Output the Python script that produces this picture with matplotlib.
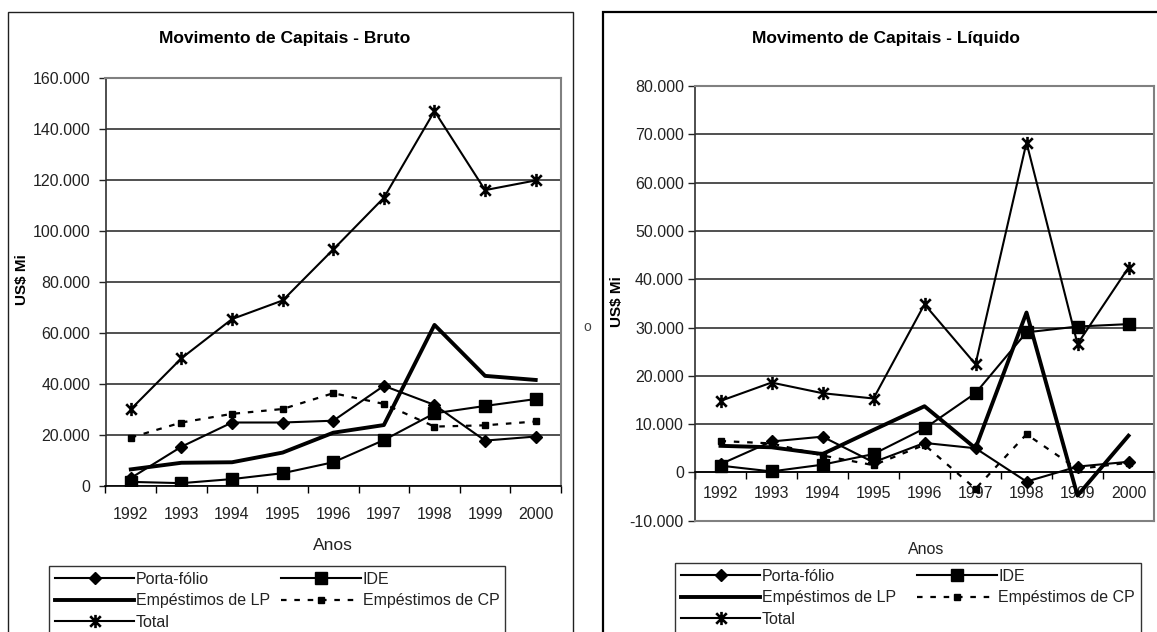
import matplotlib
matplotlib.use("Agg")
import matplotlib.pyplot as plt
from matplotlib.path import Path
from matplotlib.patches import Rectangle
from matplotlib.ticker import FuncFormatter, FixedLocator

plt.rcParams['font.family'] = ['Liberation Sans', 'DejaVu Sans']

years = ['1992', '1993', '1994', '1995', '1996', '1997', '1998', '1999', '2000']
series_names = ['Porta-fólio', 'IDE', 'Empéstimos de LP', 'Empéstimos de CP', 'Total']

# Bruto (US$ Mi)
bruto_portafolio = [3000, 15300, 24800, 24800, 25500, 39200, 31700, 17700, 19300]
bruto_ide = [1500, 1000, 2600, 4900, 9200, 17900, 28400, 31300, 34000]
bruto_lp = [6400, 9000, 9200, 13000, 20800, 23800, 63100, 43100, 41500]
bruto_cp = [18900, 24800, 28200, 30100, 36300, 32100, 23200, 23700, 25200]
bruto_total = [30000, 50000, 65400, 72700, 92700, 113000, 147000, 116000, 119800]

# Líquido (US$ Mi)
liq_portafolio = [1700, 6400, 7400, 2100, 6100, 5000, -1900, 1200, 2200]
liq_ide = [1400, 200, 1600, 3800, 9100, 16400, 29000, 30200, 30700]
liq_lp = [5500, 5200, 3800, 8800, 13700, 5000, 33100, -4800, 7600]
liq_cp = [6500, 6000, 3500, 1500, 5700, -3400, 7900, 700, 2000]
liq_total = [14800, 18600, 16400, 15300, 34800, 22400, 68300, 26600, 42400]

W, H = 1157, 632
fig = plt.figure(figsize=(W / 100, H / 100), dpi=100)
fig.patch.set_facecolor('white')

star = Path([(-1, -1), (1, 1), (-1, 1), (1, -1), (0, -1.25), (0, 1.25)],
            [Path.MOVETO, Path.LINETO, Path.MOVETO, Path.LINETO, Path.MOVETO, Path.LINETO])

def fx(px):
    return px / W

def fy(py):
    return 1 - py / H

def fmt(v, pos):
    return f"{int(round(v)):,}".replace(",", ".")

def make_chart(rect, data, ylim, ystep, xpad, ypad, zero_axis):
    ax = fig.add_axes(rect)
    x = list(range(len(years)))
    port, ide, lp, cp, tot = data
    h_port, = ax.plot(x, port, color='black', lw=1.5, marker='D', ms=6.5, zorder=5)
    h_ide, = ax.plot(x, ide, color='black', lw=1.5, marker='s', ms=8.5, zorder=5)
    h_lp, = ax.plot(x, lp, color='black', lw=2.8, zorder=4)
    h_cp, = ax.plot(x, cp, color='black', lw=1.6, linestyle=(0, (2.5, 3.5)),
                    marker='s', ms=4, zorder=4)
    h_tot, = ax.plot(x, tot, color='black', lw=1.5, marker=star, ms=9.5, mew=1.9,
                     zorder=5)
    ax.set_xlim(-0.5, len(years) - 0.5)
    ax.set_ylim(*ylim)
    yt = list(range(ylim[0], ylim[1] + 1, ystep))
    ax.set_yticks(yt)
    ax.yaxis.set_major_formatter(FuncFormatter(fmt))
    ax.yaxis.grid(True, color='#202020', lw=1.1)
    ax.set_axisbelow(True)
    ax.set_xticks(x)
    ax.set_xticklabels(years)
    ax.xaxis.set_minor_locator(FixedLocator([i - 0.5 for i in range(len(years) + 1)]))
    ax.tick_params(axis='x', which='major', length=0, pad=xpad, labelsize=11.5,
                   colors='#222222')
    ax.tick_params(axis='x', which='minor', length=5, width=1, direction='out',
                   color='black')
    ax.tick_params(axis='y', length=5, width=1, direction='out', pad=ypad,
                   labelsize=11.5, colors='#222222')
    for s in ['top', 'right']:
        ax.spines[s].set_color('#808080')
        ax.spines[s].set_linewidth(1.5)
    ax.spines['left'].set_color('#303030')
    ax.spines['left'].set_linewidth(1.2)
    ax.spines['bottom'].set_color('black')
    ax.spines['bottom'].set_linewidth(1.2)
    if zero_axis:
        ax.spines['bottom'].set_position(('data', 0))
        ax.plot([0, 1], [0, 0], transform=ax.transAxes, color='#808080', lw=1.5,
                clip_on=False, zorder=3)
    return ax, [h_port, h_lp, h_tot, h_ide, h_cp]

def add_legend(handles, corner, colspace):
    labels = [series_names[0], series_names[2], series_names[4],
              series_names[1], series_names[3]]
    leg = fig.legend(handles, labels, loc='upper left', bbox_to_anchor=corner,
                     bbox_transform=fig.transFigure, ncol=2, numpoints=1,
                     handlelength=5.0, handletextpad=0.1, columnspacing=colspace,
                     labelspacing=0.42, borderpad=0.35, borderaxespad=0,
                     fancybox=False, frameon=True, prop={'size': 11.5})
    leg.get_frame().set_edgecolor('black')
    leg.get_frame().set_linewidth(1.0)
    for t in leg.get_texts():
        t.set_color('#222222')
    return leg

# frames
fig.add_artist(Rectangle((fx(8), fy(640)), fx(573) - fx(8), fy(12) - fy(640),
                         transform=fig.transFigure, fill=False, ec='#202020', lw=1.0))
fig.add_artist(Rectangle((fx(603), fy(640)), fx(1175) - fx(603), fy(12) - fy(640),
                         transform=fig.transFigure, fill=False, ec='black', lw=1.6))

# left chart
axL, hL = make_chart([fx(105.5), fy(485.7), fx(561) - fx(105.5), fy(78) - fy(485.7)],
                     [bruto_portafolio, bruto_ide, bruto_lp, bruto_cp, bruto_total],
                     (0, 160000), 20000, 15, 6, False)
fig.text(fx(285), fy(38), 'Movimento de Capitais - Bruto', ha='center', va='center',
         fontsize=12.5, fontweight='bold')
fig.text(fx(333), fy(545), 'Anos', ha='center', va='center', fontsize=12.5,
         color='#222222')
fig.text(fx(22), fy(280), 'US$ Mi', ha='center', va='center', rotation=90,
         fontsize=11, fontweight='bold')
add_legend(hL, (fx(49), fy(566)), 0.7)

# right chart
axR, hR = make_chart([fx(695), fy(520.7), fx(1154) - fx(695), fy(86) - fy(520.7)],
                     [liq_portafolio, liq_ide, liq_lp, liq_cp, liq_total],
                     (-10000, 80000), 10000, 10, 3, True)
fig.text(fx(886), fy(38), 'Movimento de Capitais - Líquido', ha='center', va='center',
         fontsize=12.5, fontweight='bold')
fig.text(fx(926), fy(550), 'Anos', ha='center', va='center', fontsize=11.5,
         color='#222222')
fig.text(fx(617), fy(302), 'US$ Mi', ha='center', va='center', rotation=90,
         fontsize=11, fontweight='bold')
add_legend(hR, (fx(675), fy(563)), 1.3)

fig.text(fx(587), fy(327), 'o', ha='center', va='center', fontsize=10, color='#444444')

fig.savefig('out.png', dpi=100, facecolor='white')
